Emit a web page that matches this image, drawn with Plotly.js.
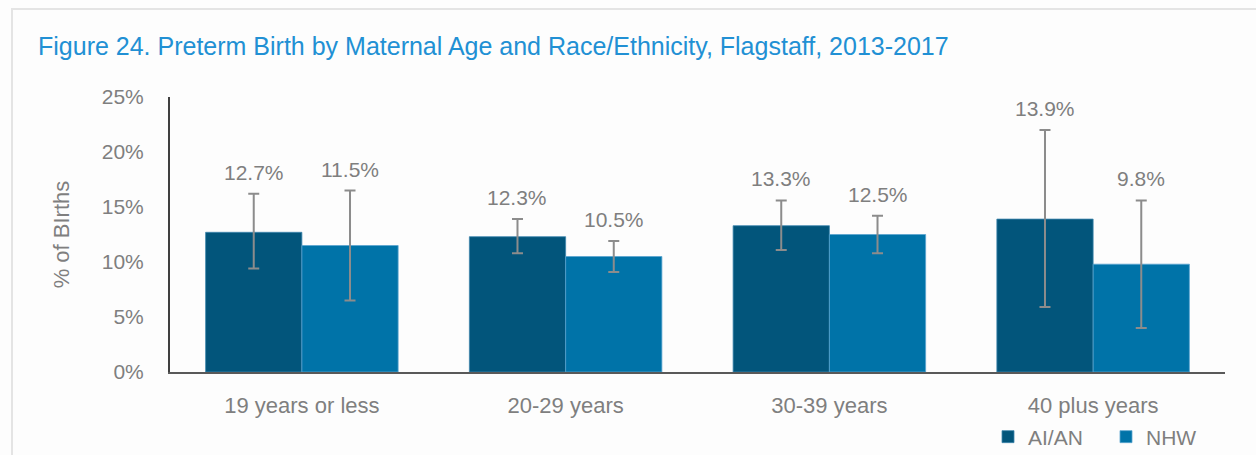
<!DOCTYPE html>
<html>
<head>
<meta charset="utf-8">
<script src="https://cdn.plot.ly/plotly-3.0.1.min.js"></script>
<style>
  html, body { margin: 0; padding: 0; background: #ffffff; }
  #wrap { position: relative; width: 1256px; height: 455px; }
  #chart { width: 1256px; height: 455px; }
  #frame { position: absolute; left: 11px; top: 8px; width: 1245px; height: 447px;
           border-top: 2px solid #e4e4e4; border-left: 2px solid #e4e4e4; pointer-events: none; box-sizing: border-box; }
</style>
</head>
<body>
<div id="wrap">
  <div id="chart"></div>
  <div id="frame"></div>
</div>
<script>
const categories = ["19 years or less", "20-29 years", "30-39 years", "40 plus years"];
const seriesNames = ["AI/AN", "NHW"];
const aianValues = [12.7, 12.3, 13.3, 13.9];
const aianUpper = [16.2, 13.9, 15.6, 22.0];
const aianLower = [9.4, 10.8, 11.1, 5.9];
const nhwValues = [11.5, 10.5, 12.5, 9.8];
const nhwUpper = [16.5, 11.9, 14.2, 15.6];
const nhwLower = [6.5, 9.1, 10.8, 4.0];
const yTickVals = [0, 5, 10, 15, 20, 25];
const yTickText = ["0%", "5%", "10%", "15%", "20%", "25%"];

const GRAY = "#7f7f7f";
const FONT = "Liberation Sans, Arial, sans-serif";

function errBar(vals, up, lo) {
  return {
    type: "data", symmetric: false,
    array: vals.map((v, i) => +(up[i] - v).toFixed(2)),
    arrayminus: vals.map((v, i) => +(v - lo[i]).toFixed(2)),
    color: "#8c8c8c", thickness: 2, width: 5.5
  };
}

const traces = [
  { type: "bar", name: seriesNames[0], x: categories, y: aianValues,
    marker: { color: "#02557b", line: { color: "#3f86ad", width: 0.8 } },
    error_y: errBar(aianValues, aianUpper, aianLower), hoverinfo: "none" },
  { type: "bar", name: seriesNames[1], x: categories, y: nhwValues,
    marker: { color: "#0073a8", line: { color: "#5aa5cf", width: 0.8 } },
    error_y: errBar(nhwValues, nhwUpper, nhwLower), hoverinfo: "none" }
];

const bargap = 0.27;
const half = (1 - bargap) / 4;
const annotations = [];
categories.forEach((c, i) => {
  [[aianValues, aianUpper, -half], [nhwValues, nhwUpper, half]].forEach(([vals, ups, off]) => {
    annotations.push({
      x: i + off, y: ups[i], xref: "x", yref: "y",
      text: vals[i].toFixed(1) + "%", showarrow: false,
      yanchor: "bottom", yshift: 8,
      font: { family: FONT, size: 21, color: GRAY }
    });
  });
});

const layout = {
  width: 1256, height: 455,
  paper_bgcolor: "#fdfdfd", plot_bgcolor: "#fdfdfd",
  margin: { l: 170, r: 31, t: 97, b: 83, autoexpand: false },
  title: {
    text: "Figure 24. Preterm Birth by Maternal Age and Race/Ethnicity, Flagstaff, 2013-2017",
    xref: "container", yref: "container", x: 38 / 1256, xanchor: "left",
    y: 1 - 46 / 455, yanchor: "middle",
    font: { family: FONT, size: 25, color: "#2190d4" }
  },
  barmode: "group", bargap: bargap, bargroupgap: 0,
  showlegend: true,
  legend: {
    orientation: "h", xref: "container", yref: "container",
    x: 988 / 1256, xanchor: "left", y: 1 - 437 / 455, yanchor: "middle",
    font: { family: FONT, size: 21, color: GRAY }, itemwidth: 30,
    bgcolor: "rgba(0,0,0,0)", traceorder: "normal", entrywidth: 73
  },
  xaxis: {
    type: "category", showgrid: false, zeroline: false,
    showline: true, linecolor: "#595959", linewidth: 2,
    ticks: "outside", ticklen: 13, tickcolor: "rgba(0,0,0,0)",
    tickfont: { family: FONT, size: 22, color: GRAY }
  },
  yaxis: {
    range: [0, 25], tickvals: yTickVals, ticktext: yTickText,
    showgrid: false, zeroline: false, showline: true, linecolor: "#404040", linewidth: 2,
    ticks: "outside", ticklen: 20, tickcolor: "rgba(0,0,0,0)",
    tickfont: { family: FONT, size: 21, color: GRAY },
    title: { text: "% of BIrths", standoff: 26, font: { family: FONT, size: 22, color: GRAY } }
  },
  annotations: annotations
};

Plotly.newPlot("chart", traces, layout, { staticPlot: true, displayModeBar: false });
</script>
</body>
</html>
